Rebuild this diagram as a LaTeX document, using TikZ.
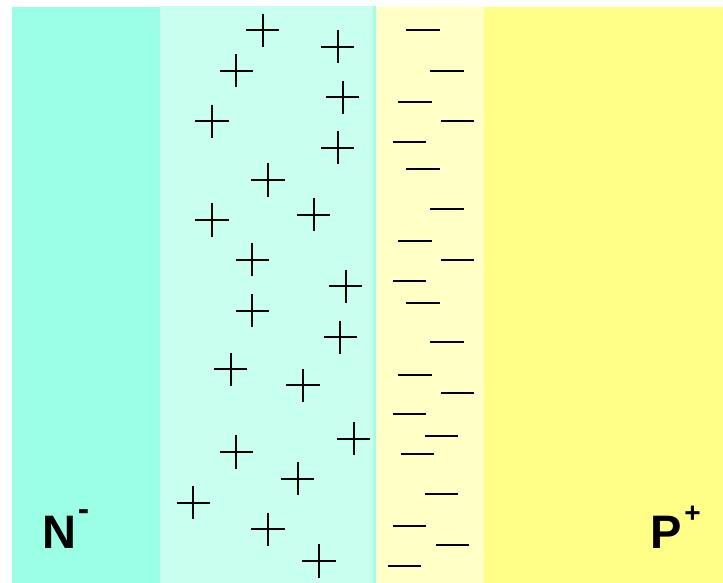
\documentclass[tikz,border=0pt]{standalone}
\usepackage{fontspec}
\setmainfont{Liberation Sans}
\definecolor{nreg}{RGB}{155,255,229}
\definecolor{dcyan}{RGB}{200,255,238}
\definecolor{dstripe}{RGB}{160,255,232}
\definecolor{lyel}{RGB}{255,255,198}
\definecolor{yel}{RGB}{255,255,136}
\tikzset{
  charge/.style={line width=1.9pt, black},
  lbl/.style={font=\fontsize{47}{47}\selectfont\bfseries, inner sep=0pt, anchor=base west}
}
\begin{document}
\begin{tikzpicture}[x=1pt,y=-1pt]
\useasboundingbox (0,0) rectangle (723,583);
\fill[white] (0,0) rectangle (723,583);
\fill[nreg] (12,7) rectangle (159.5,583);
\fill[dcyan] (159.5,6) rectangle (373,583);
\fill[dstripe] (373,6) rectangle (375.5,583);
\fill[lyel] (375.5,7) rectangle (484,583);
\fill[yel] (484,7) rectangle (723,583);
% positive ions
\foreach \x/\y in {262.7/30.3, 337.7/46.7, 236.3/70.7, 342.7/97.3, 212/121.3,
  337.7/147.7, 268/180, 212/220, 313.7/214.7, 252.3/259.7, 345.7/286.3,
  252.3/310.7, 340.3/337.3, 230.7/369.3, 303/385.3, 353.7/438.7, 236.3/452,
  297.7/478.7, 193.3/502.7, 268/529.3, 319/561}
  \draw[charge] (\x-16.7,\y) -- (\x+16.7,\y) (\x,\y-16.7) -- (\x,\y+16.7);
% negative ions
\foreach \x/\y in {406.3/30.3, 430.3/70.7, 398.3/102.3, 441/121, 393/142.3,
  406.3/169, 430.3/209, 398.3/240.7, 441/259.7, 393/281, 406.3/302.7,
  430.3/342.3, 398.3/374.7, 441/393, 393/414.3, 425/435.7, 401/454.3,
  425/494.3, 393/526.3, 435.7/545, 387.7/566.3}
  \draw[charge] (\x,\y) -- (\x+33.4,\y);
\node[lbl] (nlabel) at (42,548) {N};
\node[font=\fontsize{34}{34}\selectfont\bfseries, inner sep=0pt, anchor=base] (nsup) at (83.5,520) {-};
\node[lbl] (plabel) at (650,548) {P};
\node[font=\fontsize{28}{28}\selectfont\bfseries, inner sep=0pt, anchor=base] (psup) at (692.5,522.5) {+};
\end{tikzpicture}
\end{document}
